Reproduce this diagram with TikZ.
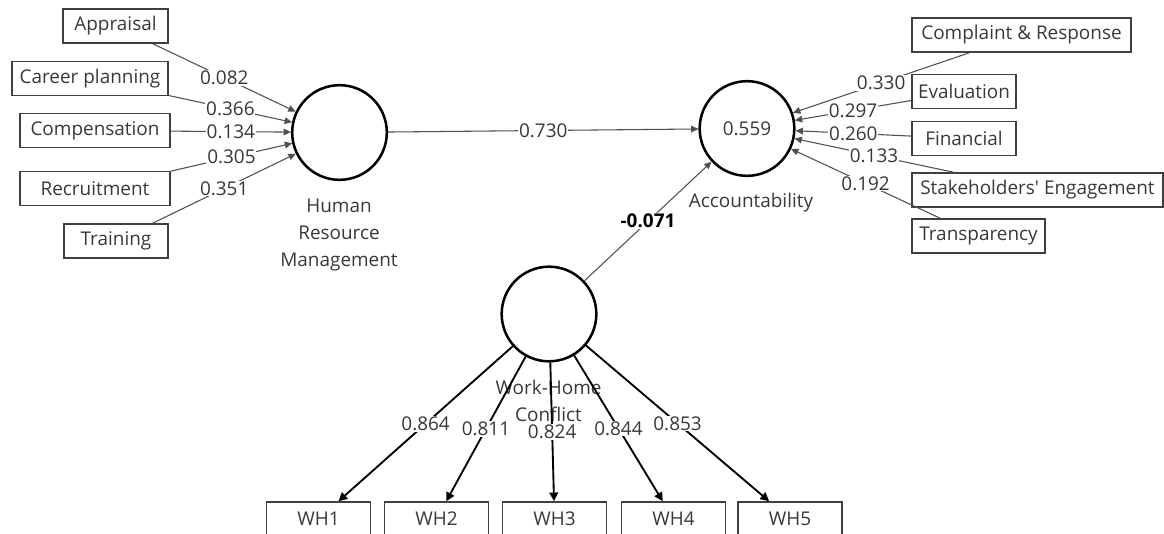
\documentclass[tikz,border=0pt]{standalone}
\usepackage{fontspec}
\setmainfont{Open Sans}
\usetikzlibrary{arrows.meta}

\definecolor{txtgray}{HTML}{383838}
\definecolor{linegray}{HTML}{505050}
\definecolor{boxgray}{HTML}{404040}

\begin{document}
\begin{tikzpicture}[x=0.75pt, y=-0.75pt,
    font=\fontsize{14.2}{20}\selectfont,
    ind/.style={draw=boxgray, line width=1.2pt, text=txtgray, minimum height=25.5pt, inner sep=0pt},
    lv/.style={circle, draw=black, line width=1.9pt, minimum size=71pt, inner sep=0pt},
    lvname/.style={text=txtgray, align=center},
    wt/.style={fill=white, text=txtgray, inner sep=0.6pt},
    thin path/.style={draw=linegray, line width=0.8pt, -{Triangle[length=5.5pt,width=5pt]}},
    load/.style={draw=black, line width=1.4pt, -{Triangle[length=6.5pt,width=6.5pt]}}]

\useasboundingbox (0,0) rectangle (1164,533);

% constructs
\node[lv] (hrm) at (339.5,132.5) {};
\node[lv] (acc) at (747,128.5) {\textcolor{txtgray}{0.559}};
\node[lv] (whc) at (549,314) {};

\node[lvname] (hrmname) at (339,235) {Human\\Resource\\Management};
\node[lvname] (accname) at (751,203) {Accountability};
\node[lvname] (whcname) at (548.5,401) {Work-Home\\Conflict};

% indicators of HRM
\node[ind, minimum width=78.75pt] (appr) at (115.5,26)  {Appraisal};
\node[ind, minimum width=117pt]   (carp) at (90,78.5)   {Career planning};
\node[ind, minimum width=112.5pt] (comp) at (95,130.5)  {Compensation};
\node[ind, minimum width=112.5pt] (recr) at (95,188.5)  {Recruitment};
\node[ind, minimum width=78pt]    (trai) at (116,241)   {Training};

% indicators of accountability
\node[ind, minimum width=164.25pt] (cres) at (1021.5,35)  {Complaint \& Response};
\node[ind, minimum width=78pt]     (eval) at (964,91.5)   {Evaluation};
\node[ind, minimum width=78pt]     (fina) at (964,138.5)  {Financial};
\node[ind, minimum width=188.25pt] (stak) at (1037.5,190) {Stakeholders\textquotesingle{} Engagement};
\node[ind, minimum width=99.75pt]  (tran) at (978.5,236)  {Transparency};

% indicators of work-home conflict
\foreach \i/\x in {1/318.5, 2/436.5, 3/554.5, 4/673.5, 5/790}
  \node[ind, minimum width=78pt] (wh\i) at (\x,519) {WH\i};

% outer weights
\draw[thin path] (appr) -- node[wt] {0.082} (hrm);
\draw[thin path] (carp) -- node[wt] {0.366} (hrm);
\draw[thin path] (comp) -- node[wt] {0.134} (hrm);
\draw[thin path] (recr) -- node[wt] {0.305} (hrm);
\draw[thin path] (trai) -- node[wt] {0.351} (hrm);

\draw[thin path] (cres) -- node[wt] {0.330} (acc);
\draw[thin path] (eval) -- node[wt] {0.297} (acc);
\draw[thin path] (fina) -- node[wt] {0.260} (acc);
\draw[thin path] (stak) -- node[wt] {0.133} (acc);
\draw[thin path] (tran) -- node[wt] {0.192} (acc);

% loadings
\foreach \i/\v in {1/0.864, 2/0.811, 3/0.824, 4/0.844, 5/0.853}
  \draw[load] (whc) -- node[wt] {\v} (wh\i);

% structural paths
\draw[thin path] (hrm) -- node[wt] {0.730} (acc);
\draw[thin path] (whc) -- node[wt, text=black] {\bfseries -0.071} (acc);

\end{tikzpicture}
\end{document}
